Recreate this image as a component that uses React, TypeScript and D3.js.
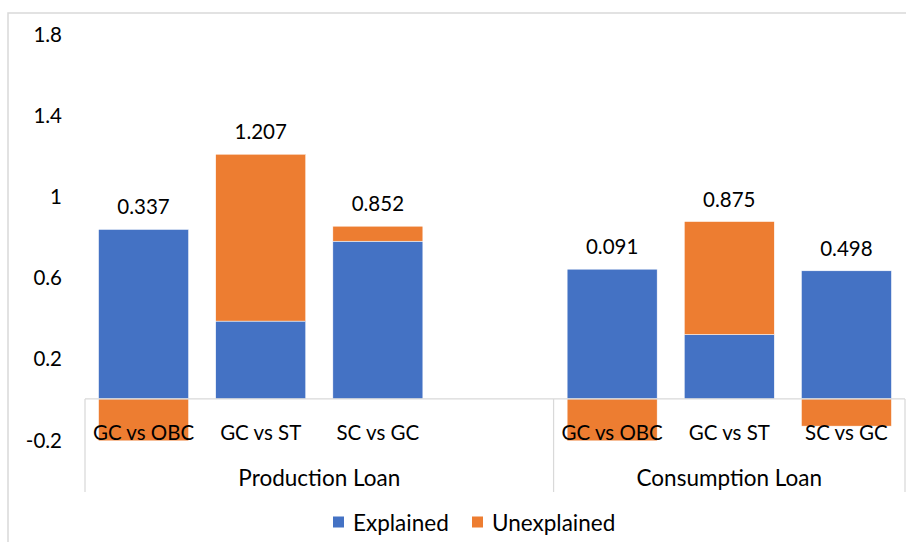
import React from "react";
import * as d3 from "d3";

const groups = ["Production Loan", "Consumption Loan"];
const comparisons = ["GC vs OBC", "GC vs ST", "SC vs GC"];
const explained = [0.836, 0.384, 0.778, 0.64, 0.318, 0.632];
const unexplained = [-0.499, 0.823, 0.074, -0.549, 0.557, -0.134];
const yTicks = [-0.2, 0.2, 0.6, 1, 1.4, 1.8];
const seriesNames = ["Explained", "Unexplained"];
const colors = ["#4472C4", "#ED7D31"];

const W = 906;
const H = 542;
const FONT = "Lato, 'Noto Sans', sans-serif";

export default function App() {
  const slots: { slot: number; group: number; label: string; exp: number; unexp: number }[] = [];
  groups.forEach((g, gi) => {
    comparisons.forEach((c, ci) => {
      const idx = gi * comparisons.length + ci;
      slots.push({ slot: gi * (comparisons.length + 1) + ci, group: gi, label: c, exp: explained[idx], unexp: unexplained[idx] });
    });
  });
  const nSlots = groups.length * (comparisons.length + 1) - 1;

  const x = d3.scaleBand<number>().domain(d3.range(nSlots)).range([85, 905]).paddingInner(0.2317).paddingOuter(0.1158);
  const y = d3.scaleLinear().domain([-0.2, 1.8]).range([439.5, 34]);
  const y0 = y(0);

  const sepX = 85 + x.step() * (comparisons.length + 1);
  const boundaries = [85, sepX, 905];

  return (
    <svg width={W} height={H} style={{ position: "absolute", left: 0, top: 0, background: "#fff" }} fontFamily={FONT}>
      <defs>
        <clipPath id="plot">
          <rect x={85} y={20} width={820} height={y(-0.2) - 20 + 1} />
        </clipPath>
      </defs>
      <rect x={8} y={13} width={W + 20} height={H + 20} fill="#fff" stroke="#d9d9d9" strokeWidth={1.5} />

      {yTicks.map((t) => (
        <text key={t} x={62} y={y(t)} textAnchor="end" dominantBaseline="central" fontSize={20.5} fill="#000">
          {String(t)}
        </text>
      ))}

      <g clipPath="url(#plot)">
        {slots.map((s) => {
          const bx = x(s.slot)!;
          const bw = x.bandwidth();
          const expTop = y(Math.max(s.exp, 0));
          const expBot = y(Math.min(s.exp, 0));
          let uTop: number, uBot: number;
          if (s.unexp >= 0) {
            const base = Math.max(s.exp, 0);
            uTop = y(base + s.unexp);
            uBot = y(base);
          } else {
            const base = Math.min(s.exp, 0);
            uTop = y(base);
            uBot = y(base + s.unexp);
          }
          return (
            <g key={s.slot}>
              <rect x={bx} y={expTop} width={bw} height={expBot - expTop} fill={colors[0]} stroke="#fff" strokeWidth={0.5} />
              <rect x={bx} y={uTop} width={bw} height={uBot - uTop} fill={colors[1]} stroke="#fff" strokeWidth={0.5} />
            </g>
          );
        })}
      </g>

      {slots.map((s) => {
        const top = Math.max(s.exp, 0) + Math.max(s.unexp, 0);
        const total = s.exp + s.unexp;
        return (
          <text key={"l" + s.slot} x={x(s.slot)! + x.bandwidth() / 2} y={y(top) - 23} textAnchor="middle" dominantBaseline="central" fontSize={20.5} fill="#000">
            {d3.format(".3f")(total)}
          </text>
        );
      })}

      <line x1={85} x2={905} y1={y0} y2={y0} stroke="#d9d9d9" strokeWidth={1.25} />
      {boundaries.map((bx, i) => (
        <line key={"b" + i} x1={bx} x2={bx} y1={y0} y2={492} stroke="#d9d9d9" strokeWidth={1.25} />
      ))}
      {slots.map((s) => (
        <text key={"c" + s.slot} x={x(s.slot)! + x.bandwidth() / 2} y={432} textAnchor="middle" dominantBaseline="central" fontSize={20.5} fill="#000">
          {s.label}
        </text>
      ))}
      {groups.map((g, gi) => (
        <text key={g} x={(boundaries[gi] + boundaries[gi + 1]) / 2} y={477} textAnchor="middle" dominantBaseline="central" fontSize={22.5} fill="#000">
          {g}
        </text>
      ))}

      {seriesNames.map((n, i) => {
        const lx = [333, 472][i];
        return (
          <g key={n}>
            <rect x={lx} y={516.5} width={11} height={11} fill={colors[i]} />
            <text x={lx + 20} y={522} dominantBaseline="central" fontSize={22.5} fill="#000">
              {n}
            </text>
          </g>
        );
      })}
    </svg>
  );
}
